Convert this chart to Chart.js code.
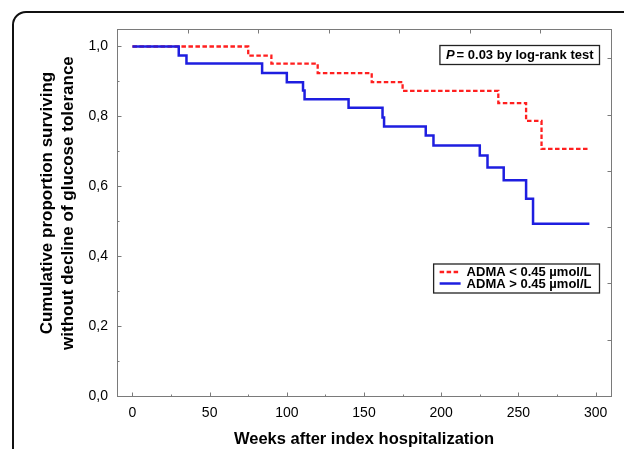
<!DOCTYPE html>
<html>
<head>
<meta charset="utf-8">
<script src="https://cdn.jsdelivr.net/npm/chart.js@4.4.1/dist/chart.umd.min.js"></script>
<style>
  html, body { margin: 0; padding: 0; background: #fff; overflow: hidden; }
  #wrap { position: relative; width: 624px; height: 449px; overflow: hidden; }
  #frame { position: absolute; left: 12px; top: 11px; width: 700px; height: 600px;
           border: 2px solid #111; border-radius: 14px; box-sizing: border-box; }
  #chart { position: absolute; left: 0; top: 0; }
</style>
</head>
<body>
<div id="wrap">
  <div id="frame"></div>
  <canvas id="chart" width="624" height="449"></canvas>
</div>
<script>
// survival curves (weeks, cumulative proportion)
const seriesLabels = ["ADMA < 0.45 µmol/L", "ADMA > 0.45 µmol/L"];
const lowWeeks = [0, 75, 90, 120, 155, 175, 237, 255, 265, 295];
const lowSurv  = [1.0, 0.974, 0.951, 0.924, 0.898, 0.873, 0.838, 0.787, 0.707, 0.707];
const highWeeks = [0, 30, 35, 84, 100, 110.5, 111.5, 140, 162, 163, 190, 195, 225, 230, 240.5, 255, 259.5, 296];
const highSurv  = [1.0, 0.974, 0.951, 0.924, 0.898, 0.874, 0.849, 0.825, 0.797, 0.771, 0.745, 0.717, 0.688, 0.654, 0.617, 0.564, 0.493, 0.493];
const xTicks = [0, 50, 100, 150, 200, 250, 300];
const yTicks = [0, 0.2, 0.4, 0.6, 0.8, 1.0];
const pLabel = "P";
const pRest = "= 0.03 by log-rank test";

const FONT = "'Liberation Sans', Arial, sans-serif";

const toPoints = (xs, ys) => xs.map((x, i) => ({ x: x, y: ys[i] }));

const decor = {
  id: "decor",
  afterDraw(chart) {
    const ctx = chart.ctx;
    const a = chart.chartArea;
    const xs = chart.scales.x, ys = chart.scales.y;
    ctx.save();

    // plot frame
    ctx.strokeStyle = "#7a7a7a";
    ctx.lineWidth = 1;
    ctx.strokeRect(Math.round(a.left) + 0.5, Math.round(a.top) + 0.5,
                   Math.round(a.right - a.left), Math.round(a.bottom - a.top));

    // inward ticks
    ctx.beginPath();
    const bx = Math.round(a.bottom) + 0.5;
    xTicks.forEach((v, i) => {
      const px = Math.round(xs.getPixelForValue(v)) + 0.5;
      ctx.moveTo(px, bx); ctx.lineTo(px, bx - 4);
      if (i < xTicks.length - 1) {
        const mx = Math.round(xs.getPixelForValue((v + xTicks[i + 1]) / 2)) + 0.5;
        ctx.moveTo(mx, bx); ctx.lineTo(mx, bx - 2);
      }
    });
    const lx = Math.round(a.left) + 0.5;
    yTicks.forEach((v, i) => {
      const py = Math.round(ys.getPixelForValue(v)) + 0.5;
      ctx.moveTo(lx, py); ctx.lineTo(lx + 4, py);
      if (i < yTicks.length - 1) {
        const my = Math.round(ys.getPixelForValue((v + yTicks[i + 1]) / 2)) + 0.5;
        ctx.moveTo(lx, my); ctx.lineTo(lx + 2, my);
      }
    });
    // top and right axes carry their own uneven ticks
    const w = a.right - a.left, h = a.bottom - a.top;
    const ty = Math.round(a.top) + 0.5;
    for (let i = 1; i < 7; i++) {
      const px = Math.round(a.left + i * w / 7) + 0.5;
      ctx.moveTo(px, ty); ctx.lineTo(px, ty + 4);
    }
    const rx = Math.round(a.right) + 0.5;
    for (let i = 1; i < 7; i++) {
      const py = Math.round(a.bottom - i * h / 6.52) + 0.5;
      ctx.moveTo(rx, py); ctx.lineTo(rx - 4, py);
    }
    ctx.stroke();

    // p-value box
    ctx.font = "bold 13px " + FONT;
    const wRest = ctx.measureText(pRest).width;
    ctx.font = "italic bold 13px " + FONT;
    const wP = ctx.measureText(pLabel).width;
    const boxR = a.right - 11.5, boxT = a.top + 16.5;
    const boxW = wP + 2 + wRest + 12, boxH = 19;
    ctx.fillStyle = "#fff";
    ctx.fillRect(boxR - boxW, boxT, boxW, boxH);
    ctx.strokeStyle = "#222";
    ctx.lineWidth = 1.3;
    ctx.strokeRect(boxR - boxW, boxT, boxW, boxH);
    ctx.fillStyle = "#000";
    ctx.textBaseline = "middle";
    ctx.textAlign = "left";
    ctx.fillText(pLabel, boxR - boxW + 6, boxT + boxH / 2 + 0.5);
    ctx.font = "bold 13px " + FONT;
    ctx.fillText(pRest, boxR - boxW + 6 + wP + 2, boxT + boxH / 2 + 0.5);

    // legend box
    const ds = chart.data.datasets;
    const textW = Math.max(...ds.map(d => ctx.measureText(d.label).width));
    const legW = 6 + 21 + 6 + textW + 8, legH = 29;
    const legR = boxR, legT = a.top + 235;
    ctx.fillStyle = "#fff";
    ctx.fillRect(legR - legW, legT, legW, legH);
    ctx.strokeStyle = "#222";
    ctx.strokeRect(legR - legW, legT, legW, legH);
    ds.forEach((d, i) => {
      const cy = legT + 8 + i * 11.5;
      ctx.save();
      ctx.strokeStyle = d.borderColor;
      ctx.lineWidth = d.borderWidth;
      ctx.setLineDash(d.borderDash || []);
      ctx.beginPath();
      ctx.moveTo(legR - legW + 6, cy);
      ctx.lineTo(legR - legW + 27, cy);
      ctx.stroke();
      ctx.restore();
      ctx.fillStyle = "#000";
      ctx.fillText(d.label, legR - legW + 33, cy + 0.5);
    });
    ctx.restore();
  }
};

new Chart(document.getElementById("chart"), {
  type: "line",
  data: {
    datasets: [
      {
        label: seriesLabels[0],
        data: toPoints(lowWeeks, lowSurv),
        borderColor: "#ff1f1f",
        borderWidth: 2.3,
        borderDash: [4.5, 2.5],
        stepped: true,
        pointRadius: 0,
        fill: false,
        order: 1
      },
      {
        label: seriesLabels[1],
        data: toPoints(highWeeks, highSurv),
        borderColor: "#1e1ee0",
        borderWidth: 2.5,
        stepped: true,
        pointRadius: 0,
        fill: false,
        order: 0
      }
    ]
  },
  options: {
    responsive: false,
    animation: false,
    layout: { padding: { left: 0, top: 29, right: 13, bottom: 0 } },
    plugins: { legend: { display: false }, tooltip: { enabled: false } },
    scales: {
      x: {
        type: "linear",
        min: -10,
        max: 310,
        afterBuildTicks: s => { s.ticks = xTicks.map(v => ({ value: v })); },
        afterFit: s => { s.height = 53; },
        grid: { display: false, drawTicks: false },
        border: { display: false },
        ticks: { color: "#000", padding: 9, maxRotation: 0, font: { family: FONT, size: 14 } },
        title: {
          display: true,
          text: "Weeks after index hospitalization",
          color: "#000",
          padding: { top: 0, bottom: 0 },
          font: { family: FONT, size: 16.5, weight: "bold" }
        }
      },
      y: {
        type: "linear",
        min: 0,
        max: 1.05,
        afterBuildTicks: s => { s.ticks = yTicks.map(v => ({ value: v })); },
        afterFit: s => { s.width = 117; },
        grid: { display: false, drawTicks: false },
        border: { display: false },
        ticks: {
          color: "#000",
          padding: 9,
          font: { family: FONT, size: 14 },
          callback: v => v.toFixed(1).replace(".", ",")
        },
        title: {
          display: true,
          // leading spaces nudge the rotated title up to where the original sits
          text: ["    Cumulative proportion surviving", "    without decline of glucose tolerance"],
          color: "#000",
          padding: { top: 36.4, bottom: 0 },
          font: { family: FONT, size: 17, weight: "bold", lineHeight: 1.25 }
        }
      }
    }
  },
  plugins: [decor]
});
</script>
</body>
</html>
